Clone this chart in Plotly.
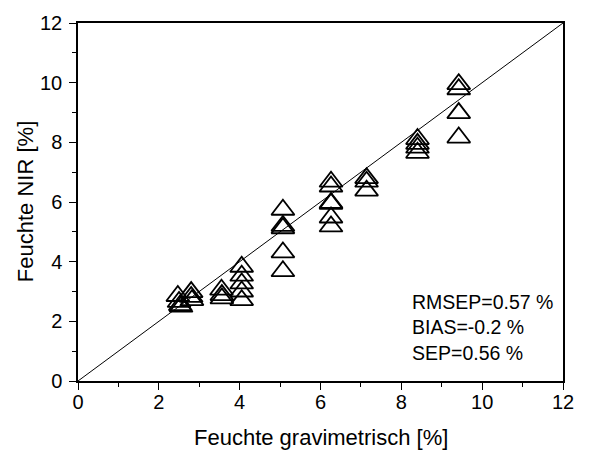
import plotly.graph_objects as go

# Data
x_grav = [2.47, 2.50, 2.53, 2.55,
          2.80, 2.80, 2.82,
          3.55, 3.56, 3.56,
          4.05, 4.05, 4.05, 4.05, 4.05,
          5.07, 5.07, 5.07, 5.07, 5.07,
          6.26, 6.26, 6.26, 6.26, 6.26, 6.26,
          7.14, 7.14, 7.14,
          8.40, 8.40, 8.40, 8.40,
          9.42, 9.42, 9.42, 9.42]
y_nir = [2.85, 2.65, 2.54, 2.49,
         2.98, 2.82, 2.71,
         3.06, 2.88, 2.77,
         3.83, 3.53, 3.27, 3.00, 2.71,
         5.74, 5.20, 5.12, 4.31, 3.68,
         6.68, 6.52, 5.97, 5.94, 5.48, 5.18,
         6.80, 6.68, 6.38,
         8.11, 7.95, 7.82, 7.65,
         9.95, 9.78, 8.98, 8.16]
ideal = [0, 12]
stats_text = ["RMSEP=0.57 %", "BIAS=-0.2 %", "SEP=0.56 %"]
tick_vals = [0, 2, 4, 6, 8, 10, 12]
x_title = "Feuchte gravimetrisch [%]"
y_title = "Feuchte NIR [%]"

FONT = "Liberation Sans, Arial, sans-serif"

fig = go.Figure()
fig.add_trace(go.Scatter(x=ideal, y=ideal, mode="lines",
                         line=dict(color="black", width=1), showlegend=False,
                         hoverinfo="skip"))
fig.add_trace(go.Scatter(x=x_grav, y=y_nir, mode="markers",
                         marker=dict(symbol="triangle-up-open", size=20,
                                     color="black", line=dict(width=1.8, color="black")),
                         showlegend=False))

axis_common = dict(range=[0, 12], tickvals=tick_vals, ticks="outside", ticklen=7,
                   tickwidth=1.3, tickcolor="black", showline=True, linecolor="black",
                   linewidth=1.5, mirror=True, showgrid=False, zeroline=False,
                   tickfont=dict(family=FONT, size=20, color="black"),
                   minor=dict(dtick=1, ticks="outside", ticklen=4, tickwidth=1.3,
                              tickcolor="black", showgrid=False))

fig.update_xaxes(**axis_common, ticklabelstandoff=-5)
fig.update_yaxes(**axis_common, ticklabelstandoff=3)

fig.add_annotation(text=y_title, xref="paper", yref="paper",
                   x=-0.109, y=0.5, textangle=-90, showarrow=False,
                   xanchor="center", yanchor="middle",
                   font=dict(family=FONT, size=22, color="black"))
fig.add_annotation(text=x_title, xref="paper", yref="paper",
                   x=0.5, y=-0.159, showarrow=False,
                   xanchor="center", yanchor="middle",
                   font=dict(family=FONT, size=22, color="black"))
fig.add_annotation(text="<br>".join(stats_text), xref="x", yref="y",
                   x=8.22, y=1.81, xanchor="left", yanchor="middle", align="left",
                   showarrow=False, font=dict(family=FONT, size=19.5, color="black"))

fig.update_layout(width=594, height=453, margin=dict(l=78, r=31, t=16, b=72),
                  paper_bgcolor="white", plot_bgcolor="white")
fig.write_html("out.html")
